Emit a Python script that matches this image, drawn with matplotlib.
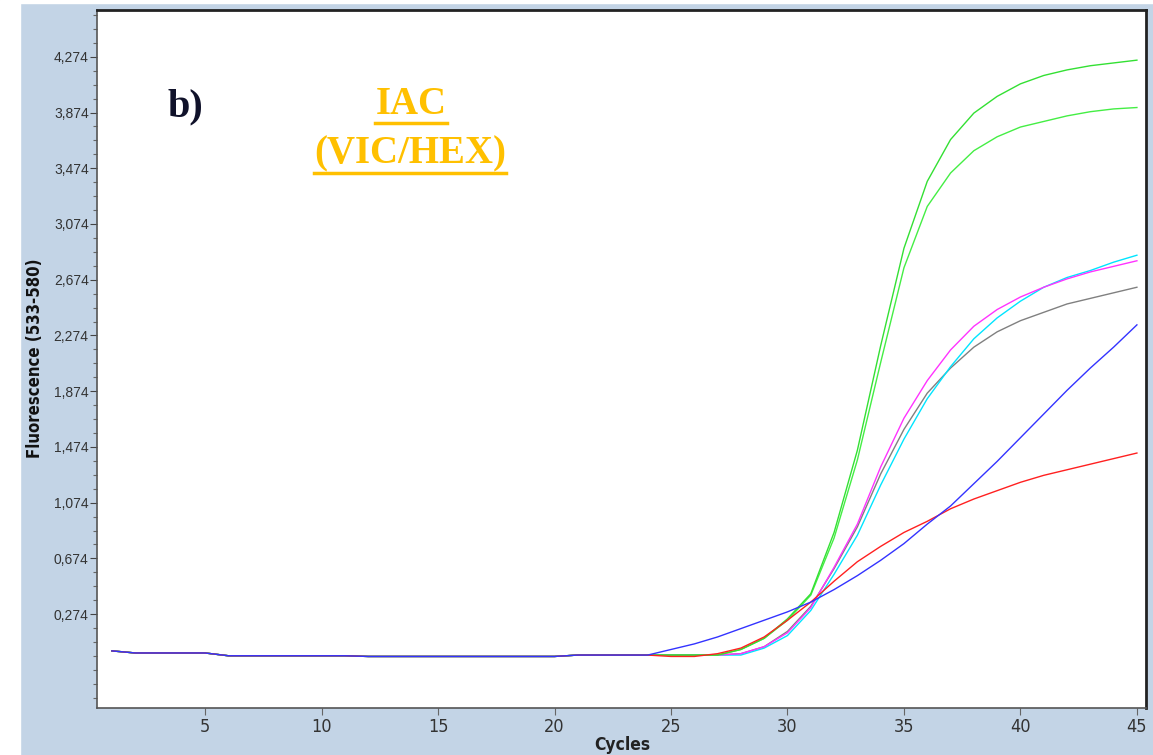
import matplotlib
matplotlib.use("Agg")
import matplotlib.pyplot as plt
from matplotlib.lines import Line2D
from matplotlib.patches import Rectangle
from matplotlib.ticker import FixedLocator, FuncFormatter
import numpy as np

W_PX, H_PX = 1153, 755

# cycles 1..45
CYCLES = list(range(1, 46))

# flat part shared by the traces (cycles 1..24)
BASE = [0.010, -0.005, -0.005, -0.005, -0.005, -0.025, -0.025, -0.025,
        -0.025, -0.025, -0.025, -0.030, -0.030, -0.030, -0.030, -0.030,
        -0.030, -0.030, -0.030, -0.030, -0.020, -0.020, -0.020, -0.020]

# cycles 25..45
GREEN_1 = [-0.02, -0.02, -0.02, 0.02, 0.10, 0.24, 0.42, 0.86, 1.45, 2.20, 2.90,
           3.38, 3.68, 3.87, 3.99, 4.08, 4.14, 4.18, 4.21, 4.23, 4.25]
GREEN_2 = [-0.02, -0.02, -0.02, 0.02, 0.10, 0.23, 0.41, 0.82, 1.38, 2.08, 2.76,
           3.20, 3.44, 3.60, 3.70, 3.77, 3.81, 3.85, 3.88, 3.90, 3.91]
MAGENTA = [-0.02, -0.02, -0.02, -0.01, 0.04, 0.14, 0.32, 0.61, 0.92, 1.33, 1.68,
           1.95, 2.17, 2.34, 2.46, 2.55, 2.62, 2.68, 2.73, 2.77, 2.81]
CYAN = [-0.02, -0.02, -0.02, -0.02, 0.03, 0.12, 0.30, 0.56, 0.84, 1.20, 1.53,
        1.82, 2.05, 2.25, 2.40, 2.52, 2.62, 2.69, 2.74, 2.80, 2.85]
GRAY = [-0.02, -0.02, -0.02, -0.01, 0.04, 0.15, 0.33, 0.60, 0.90, 1.28, 1.60,
        1.86, 2.04, 2.19, 2.30, 2.38, 2.44, 2.50, 2.54, 2.58, 2.62]
BLUE = [0.02, 0.06, 0.11, 0.17, 0.23, 0.29, 0.36, 0.45, 0.55, 0.66, 0.78,
        0.92, 1.05, 1.21, 1.37, 1.54, 1.71, 1.88, 2.04, 2.19, 2.35]
RED = [-0.03, -0.03, -0.01, 0.03, 0.11, 0.23, 0.36, 0.51, 0.65, 0.76, 0.86,
       0.94, 1.03, 1.10, 1.16, 1.22, 1.27, 1.31, 1.35, 1.39, 1.43]

Y_TICKS = [0.274, 0.674, 1.074, 1.474, 1.874, 2.274, 2.674, 3.074, 3.474, 3.874, 4.274]
X_TICKS = [5, 10, 15, 20, 25, 30, 35, 40, 45]

traces = [
    (GRAY, "#808080"),
    (CYAN, "#00e5ff"),
    (MAGENTA, "#ff33ff"),
    (GREEN_2, "#44ee44"),
    (GREEN_1, "#33e033"),
    (RED, "#ff2020"),
    (BLUE, "#3333ff"),
]

NARROW = ["Liberation Sans Narrow", "DejaVu Sans"]

fig = plt.figure(figsize=(W_PX / 100, H_PX / 100), dpi=100)
fig.patch.set_facecolor("#c3d4e6")
# white strips at the left and top of the screenshot
fig.add_artist(Rectangle((0, 0), 20 / W_PX, 1, transform=fig.transFigure,
                         color="white", zorder=0))
fig.add_artist(Rectangle((0, 1 - 3 / H_PX), 1, 3 / H_PX, transform=fig.transFigure,
                         color="white", zorder=0))

ax = fig.add_axes([97 / W_PX, 1 - 708 / H_PX, (1146 - 97) / W_PX, (708 - 10) / H_PX])
ax.set_facecolor("white")

for vals, col in traces:
    ax.plot(CYCLES, BASE + vals, color=col, lw=1.0, solid_joinstyle="miter")

ax.set_xlim(0.36, 45.39)
ax.set_ylim(-0.40, 4.61)

ax.yaxis.set_major_locator(FixedLocator(Y_TICKS))
ax.yaxis.set_minor_locator(FixedLocator(np.round(np.arange(-0.326, 4.6, 0.1), 3)))
ax.yaxis.set_major_formatter(FuncFormatter(lambda v, p: f"{v:.3f}".replace(".", ",")))
ax.xaxis.set_major_locator(FixedLocator(X_TICKS))

ax.tick_params(axis="y", which="major", length=5, width=0.8, color="#444444",
               labelsize=10, labelcolor="#333333", pad=1)
ax.tick_params(axis="y", which="minor", length=3, width=0.8, color="#666666")
ax.tick_params(axis="x", which="major", length=5, width=0.8, color="#666666",
               labelsize=13, labelcolor="#333333", pad=2)
for lab in ax.get_xticklabels():
    lab.set_family(NARROW)
    lab.set_stretch("condensed")
for lab in ax.get_yticklabels():
    lab.set_family(["Liberation Sans", "DejaVu Sans"])

for side in ["left", "bottom"]:
    ax.spines[side].set_color("#555555")
    ax.spines[side].set_linewidth(1.2)
for side in ["top", "right"]:
    ax.spines[side].set_color("#222222")
    ax.spines[side].set_linewidth(2.0)

fig.text(622 / W_PX, 1 - 745 / H_PX, "Cycles", ha="center", va="center",
         fontsize=12.5, fontweight="bold", color="#222222",
         family=NARROW, fontstretch="condensed")
fig.text(35 / W_PX, 1 - 358 / H_PX, "Fluorescence (533-580)", ha="center", va="center",
         rotation=90, fontsize=12, fontweight="bold", color="#111111",
         family=NARROW, fontstretch="condensed")

fig.text(185 / W_PX, 1 - 107 / H_PX, "b)", ha="center", va="center",
         fontsize=29, fontweight="bold", color="#10122a",
         family=["Liberation Serif", "DejaVu Serif"])
t1 = fig.text(411 / W_PX, 1 - 105 / H_PX, "IAC", ha="center", va="center",
              fontsize=28, fontweight="bold", color="#ffc000",
              family=["Liberation Serif", "DejaVu Serif"])
t2 = fig.text(410 / W_PX, 1 - 154 / H_PX, "(VIC/HEX)", ha="center", va="center",
              fontsize=28, fontweight="bold", color="#ffc000",
              family=["Liberation Serif", "DejaVu Serif"])

# underline the two title lines
fig.canvas.draw()
renderer = fig.canvas.get_renderer()
for t, y_px in [(t1, 123), (t2, 173)]:
    bb = t.get_window_extent(renderer)
    y = 1 - y_px / H_PX
    fig.add_artist(Line2D([bb.x0 / W_PX, bb.x1 / W_PX], [y, y], transform=fig.transFigure,
                          color="#ffc000", lw=2.5))

fig.savefig("out.png", dpi=100, facecolor=fig.get_facecolor())
